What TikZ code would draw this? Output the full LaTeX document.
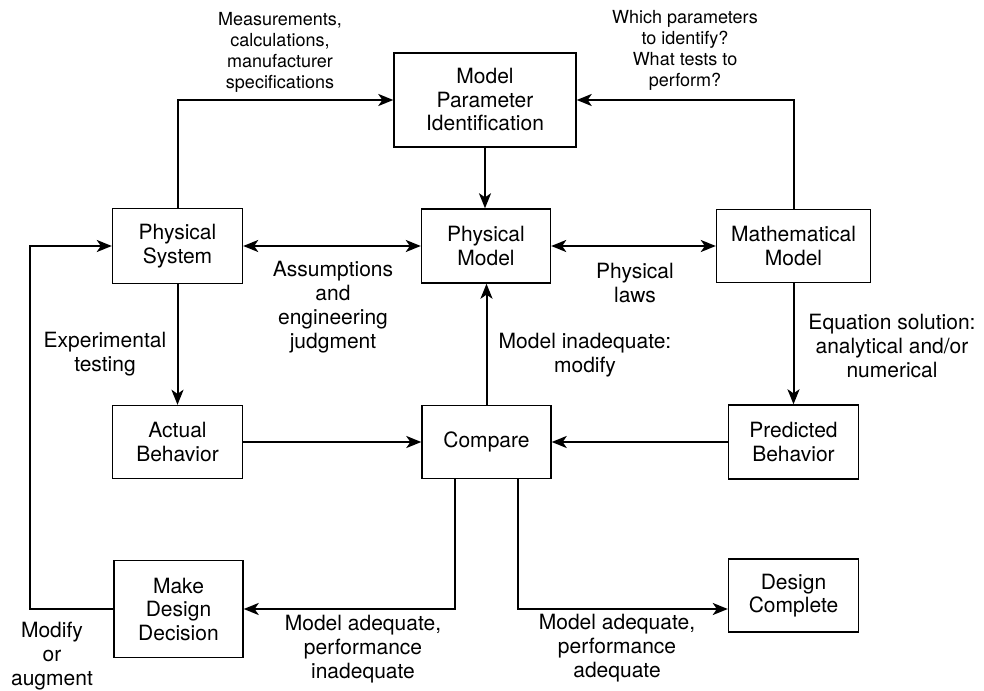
\documentclass[tikz,border=0pt]{standalone}
\usepackage{fontspec}
\setmainfont{TeX Gyre Heros}
\usetikzlibrary{arrows.meta}
\begin{document}
\begin{tikzpicture}[x=1pt,y=-1pt,
  box/.style={draw,line width=1.4pt,align=center,inner sep=0pt,font=\fontsize{21}{23.5}\selectfont},
  lbl/.style={align=center,inner sep=0pt,font=\fontsize{21}{24}\selectfont},
  toplbl/.style={align=center,inner sep=0pt,font=\fontsize{18}{21}\selectfont},
  tip/.tip={Stealth[length=15pt,width=12pt,inset=4pt]},
  arr/.style={line width=2pt,-tip},
  darr/.style={line width=2pt,tip-tip}]
\useasboundingbox[fill=white] (0,0) rectangle (984,690);
% boxes
\node[box,minimum width=182pt,minimum height=94pt] (mpi) at (485,100) {Model\\Parameter\\Identification};
\node[box,minimum width=130pt,minimum height=75pt] (ps) at (177.5,246) {Physical\\System};
\node[box,minimum width=129pt,minimum height=74pt] (pm) at (486,246) {Physical\\Model};
\node[box,minimum width=154pt,minimum height=73pt] (mm) at (793.5,246) {Mathematical\\Model};
\node[box,minimum width=130pt,minimum height=73pt] (ab) at (177.5,442) {Actual\\Behavior};
\node[box,minimum width=129pt,minimum height=73pt] (cmp) at (486.5,442) {Compare};
\node[box,minimum width=130pt,minimum height=74pt] (pb) at (793.5,442) {Predicted\\Behavior};
\node[box,minimum width=129pt,minimum height=97pt] (mdd) at (178.5,609) {Make\\Design\\Decision};
\node[box,minimum width=130pt,minimum height=73pt] (dc) at (793.5,595.5) {Design\\Complete};
% connectors
\draw[arr] (ps.north) |- (mpi.west);
\draw[arr] (mm.north) |- (mpi.east);
\draw[arr] (mpi.south) -- (mpi.south |- pm.north);
\draw[darr] (ps.east) -- (pm.west);
\draw[darr] (pm.east) -- (mm.west);
\draw[arr] (ps.south) -- (ab.north);
\draw[arr] (mm.south) -- (pb.north);
\draw[arr] (ab.east) -- (cmp.west);
\draw[arr] (pb.west) -- (cmp.east);
\draw[arr] (cmp.north) -- (cmp.north |- pm.south);
\draw[arr] (cmp.south) ++(-31.5,0) |- (mdd.east);
\draw[arr] (cmp.south) ++(31.5,0) |- (mdd.east -| dc.west);
\draw[arr] (mdd.west) -- ++(-83.5,0) |- (ps.west);
% labels
\node[toplbl] (l1) at (280,52) {Measurements,\\calculations,\\manufacturer\\specifications};
\node[toplbl] (l2) at (685,50) {Which parameters\\to identify?\\What tests to\\perform?};
\node[lbl] (l3) at (333,307) {Assumptions\\and\\engineering\\judgment};
\node[lbl] (l4) at (635,283) {Physical\\laws};
\node[lbl] (l5) at (105,354) {Experimental\\testing};
\node[lbl] (l6) at (585,355) {Model inadequate:\\modify};
\node[lbl] (l7) at (892,346) {Equation solution:\\analytical and/or\\numerical};
\node[lbl] (l8) at (363,649) {Model adequate,\\performance\\inadequate};
\node[lbl] (l9) at (617,648) {Model adequate,\\performance\\adequate};
\node[lbl] (l10) at (52,656) {Modify\\or\\augment};
\end{tikzpicture}
\end{document}
